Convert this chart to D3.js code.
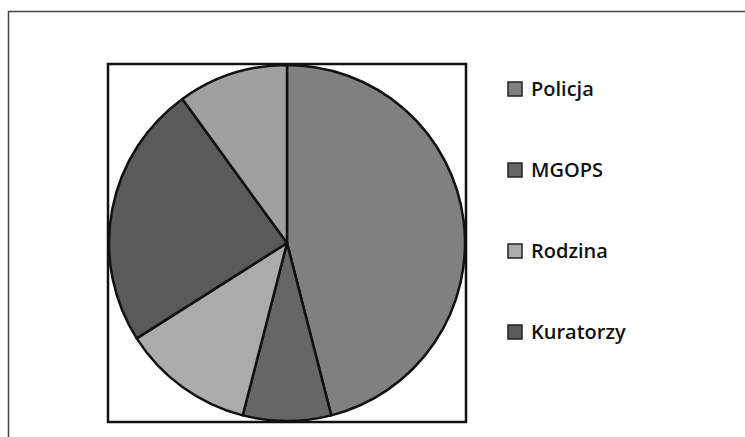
<!DOCTYPE html>
<html>
<head>
<meta charset="utf-8">
<script src="https://cdn.jsdelivr.net/npm/d3@7"></script>
<style>
  body { margin: 0; background: #fff; }
  svg { display: block; }
</style>
</head>
<body>
<div id="chart"></div>
<script>
// data (clockwise from 12 o'clock)
const categories = ["Policja", "MGOPS", "Rodzina", "Kuratorzy", "Inne"];
const values = [46, 8, 12, 24, 10];
const grays = ["#808080", "#666666", "#ababab", "#5a5a5a", "#a0a0a0"];
// only 4 entries fit in the legend of the original
const legendItems = categories.slice(0, 4);

const width = 745, height = 437;
const cx = 287, cy = 243, radius = 178;

let svg = d3.select("#chart")
  .append("svg")
  .attr("width", width)
  .attr("height", height);

// outer frame (partly cut off by the scan)
svg.append("path")
  .attr("d", `M8.5,${height} V11.5 H${width}`)
  .attr("fill", "none")
  .attr("stroke", "#444")
  .attr("stroke-width", 1.5);

// plot area box
svg.append("rect")
  .attr("x", cx - radius - 1)
  .attr("y", cy - radius - 1)
  .attr("width", radius * 2 + 2)
  .attr("height", radius * 2 + 2)
  .attr("fill", "none")
  .attr("stroke", "#111")
  .attr("stroke-width", 2.5);

const color = d3.scaleOrdinal().domain(categories).range(grays);

const pie = d3.pie().sort(null).value(d => d.value);
const arc = d3.arc().innerRadius(0).outerRadius(radius);

const data = categories.map((c, i) => ({name: c, value: values[i]}));

svg.append("g")
  .attr("transform", `translate(${cx},${cy})`)
  .selectAll("path")
  .data(pie(data))
  .join("path")
  .attr("d", arc)
  .attr("fill", d => color(d.data.name))
  .attr("stroke", "#111")
  .attr("stroke-width", 2.5)
  .attr("stroke-linejoin", "round");

// legend
const ly = d3.scalePoint().domain(legendItems).range([89, 332]);

let legend = svg.append("g")
  .selectAll("g")
  .data(legendItems)
  .join("g")
  .attr("transform", d => `translate(508,${ly(d)})`);

legend.append("rect")
  .attr("x", 0)
  .attr("y", -7)
  .attr("width", 14)
  .attr("height", 14)
  .attr("fill", d => color(d))
  .attr("stroke", "#222")
  .attr("stroke-width", 1.5);

legend.append("text")
  .attr("x", 23)
  .attr("y", 0)
  .attr("dy", "0.35em")
  .style("font-family", "'Open Sans', sans-serif")
  .style("font-size", "20px")
  .style("font-weight", 600)
  .style("fill", "#111")
  .text(d => d);
</script>
</body>
</html>
